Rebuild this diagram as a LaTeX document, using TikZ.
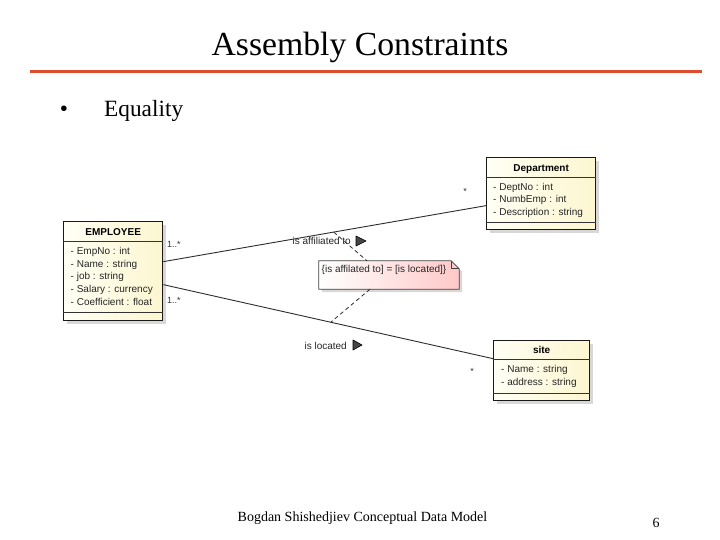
\documentclass[tikz,border=0pt]{standalone}
\usepackage{fontspec}
\setmainfont{Liberation Serif}
\newfontfamily\arialf{Liberation Sans}
\usetikzlibrary{shadows,calc}
\definecolor{rulered}{RGB}{221,77,45}
\definecolor{classA}{RGB}{255,255,244}
\definecolor{classB}{RGB}{252,246,208}
\definecolor{noteB}{RGB}{255,200,200}
\definecolor{lineC}{RGB}{45,45,45}
\definecolor{triC}{RGB}{70,70,70}
\begin{document}
\begin{tikzpicture}[x=1pt,y=-1pt,
  classbox/.style={draw=black!90, line width=1.3pt, left color=classA, right color=classB,
    drop shadow={shadow xshift=3pt,shadow yshift=-3pt,fill=black!30,opacity=0.5},
    inner sep=0pt, anchor=north west},
  sep/.style={draw=black!80, line width=0.6pt},
  hdr/.style={font=\arialf\bfseries\fontsize{10}{12}\selectfont, inner sep=0pt, anchor=base},
  attr/.style={font=\arialf\fontsize{10}{12}\selectfont, inner sep=0pt, anchor=base west, text=black!85},
  mult/.style={font=\arialf\fontsize{9}{11}\selectfont, inner sep=0pt, text=black!80},
  assoc/.style={draw=lineC, line width=0.9pt},
  rolelbl/.style={font=\arialf\fontsize{10}{12}\selectfont, inner sep=0pt, anchor=base east, text=black!85},
  tri/.style={fill=triC, draw=black, line width=0.6pt, line join=round},
  dashc/.style={draw=lineC, line width=0.8pt, dash pattern=on 4pt off 3pt},
  serif/.style={font=\fontspec{Liberation Serif}, inner sep=0pt}
]
\useasboundingbox[fill=white] (0,0) rectangle (720,540);

% title and rule
\node[serif, font=\fontsize{33.7}{38}\selectfont, anchor=base] (title) at (360,56) {Assembly Constraints};
\draw[rulered, line width=3pt] (30,72) -- (702,72);

% bullet
\node[serif, font=\fontsize{23.3}{28}\selectfont, anchor=base] (bullet) at (64,116.7) {•};
\node[serif, font=\fontsize{23.3}{28}\selectfont, anchor=base west] (equality) at (104,116.7) {Equality};

% footer
\node[serif, font=\fontsize{14}{17}\selectfont, anchor=base] (footer) at (362.5,521) {Bogdan Shishedjiev Conceptual Data Model};
\node[serif, font=\fontsize{14}{17}\selectfont, anchor=base] (pagenum) at (656,527) {6};

% EMPLOYEE
\node[classbox, minimum width=99pt, minimum height=99pt] (emp) at (63,221) {};
\draw[sep] ($(emp.north west)+(0,20)$) -- ($(emp.north east)+(0,20)$);
\draw[sep] ($(emp.south west)+(0,-9)$) -- ($(emp.south east)+(0,-9)$);
\node[hdr] (empH) at ($(emp.north)+(0,14.5)$) {EMPLOYEE};
\node[attr] (empa1) at (70.5,254.5) {- EmpNo : int};
\node[attr] (empa2) at (70.5,267.2) {- Name : string};
\node[attr] (empa3) at (70.5,279.9) {- job : string};
\node[attr] (empa4) at (70.5,292.6) {- Salary : currency};
\node[attr] (empa5) at (70.5,305.3) {- Coefficient : float};

% Department
\node[classbox, minimum width=109pt, minimum height=72pt] (dept) at (486,157) {};
\draw[sep] ($(dept.north west)+(0,20)$) -- ($(dept.north east)+(0,20)$);
\draw[sep] ($(dept.south west)+(0,-8)$) -- ($(dept.south east)+(0,-8)$);
\node[hdr] (deptH) at ($(dept.north)+(0,14.5)$) {Department};
\node[attr] (depta1) at (493,190.5) {- DeptNo : int};
\node[attr] (depta2) at (493,203) {- NumbEmp : int};
\node[attr] (depta3) at (493,215.5) {- Description : string};

% site
\node[classbox, minimum width=96pt, minimum height=60pt] (site) at (493,340) {};
\draw[sep] ($(site.north west)+(0,19)$) -- ($(site.north east)+(0,19)$);
\draw[sep] ($(site.south west)+(0,-8)$) -- ($(site.south east)+(0,-8)$);
\node[hdr] (siteH) at ($(site.north)+(0,13.5)$) {site};
\node[attr] (sitea1) at (501,372.5) {- Name : string};
\node[attr] (sitea2) at (501,385) {- address : string};

% associations
\draw[assoc] ([yshift=9.5pt]emp.east) -- ([yshift=-12pt]dept.west) coordinate[pos=0.528] (m1);
\draw[assoc] ([yshift=-13.5pt]emp.east) -- ([yshift=12pt]site.west) coordinate[pos=0.508] (m2);

% multiplicities
\node[mult, anchor=base west] (mult1) at (167,247.5) {1..*};
\node[mult, anchor=base west] (mult2) at (167,303.5) {1..*};
\node[mult, anchor=base] (mult3) at (465,195) {*};
\node[mult, anchor=base] (mult4) at (472,374) {*};

% role labels with direction triangles
\node[rolelbl] (aff) at (351,244.5) {is affiliated to};
\filldraw[tri] ($(aff.base east)+(5,-8.5)$) -- ++(10,5) -- ++(-10,5) -- cycle;
\node[rolelbl] (loc) at (347,349.5) {is located};
\filldraw[tri] ($(loc.base east)+(6,-9.5)$) -- ++(9,5) -- ++(-9,5) -- cycle;

% note
\path node[minimum width=140pt, minimum height=28pt, inner sep=0pt] (note) at (389,275) {};
\fill[black!25, opacity=0.6] ($(note.north west)+(3,3)$) -- ($(note.north east)+(-5,3)$) -- ($(note.north east)+(3,11)$) -- ($(note.south east)+(3,3)$) -- ($(note.south west)+(3,3)$) -- cycle;
\path[draw=black!75, line width=0.8pt, left color=white, right color=noteB]
  (note.north west) -- ([xshift=-8pt]note.north east) -- ([yshift=-8pt]note.north east)
  -- (note.south east) -- (note.south west) -- cycle;
\draw[black!75, line width=0.8pt, line join=round] ([xshift=-8pt]note.north east) -- ([xshift=-8pt,yshift=-8pt]note.north east) -- ([yshift=-8pt]note.north east);
\node[font=\arialf\fontsize{10}{12}\selectfont, inner sep=0pt, text=black!85] (notetext) at (384,270) {\{is affilated to] = [is located]\}};

% constraint links
\draw[dashc] (m1) -- ([xshift=-22pt]note.north);
\draw[dashc] ([xshift=-19pt]note.south) -- (m2);
\end{tikzpicture}
\end{document}
